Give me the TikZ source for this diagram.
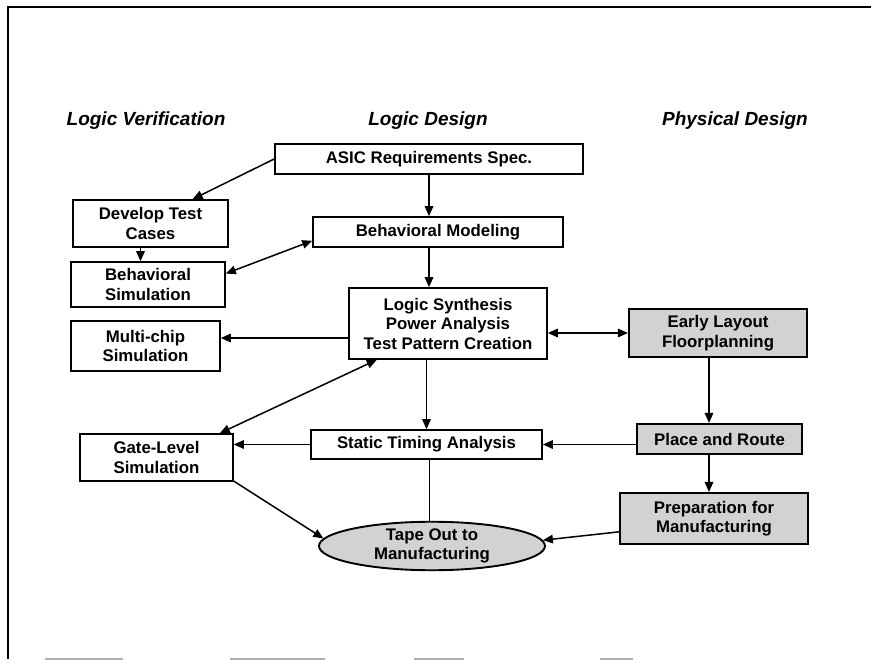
\documentclass[tikz,border=0pt]{standalone}
\usepackage{fontspec}
\setmainfont{Liberation Sans}
\usetikzlibrary{
    shapes.geometric,
    arrows.meta,
    positioning,
    calc
}
\definecolor{grisFisico}{RGB}{210, 210, 210}
\definecolor{grisMarco}{RGB}{175, 175, 175}
\tikzset{
    etapaLogica/.style={
        rectangle, draw=black, line width=1.6pt, fill=white,
        align=center, inner sep=0pt,
        font=\fontsize{16.8}{19.5}\selectfont\bfseries
    },
    etapaFisica/.style={
        etapaLogica, line width=2.1pt, fill=grisFisico
    },
    cintaFinal/.style={
        ellipse, draw=black, line width=1.9pt, fill=grisFisico,
        align=center, inner sep=0pt,
        font=\fontsize{16.8}{19}\selectfont\bfseries
    },
    tituloColumna/.style={
        font=\fontsize{19}{22}\selectfont\bfseries\itshape
    },
    flechaSimple/.style={
        -{Triangle[length=10pt,width=8.5pt]},
        line width=1.5pt
    },
    flechaDoble/.style={
        {Triangle[length=10pt,width=8.5pt]}-{Triangle[length=10pt,width=8.5pt]},
        line width=1.5pt
    },
    lineaSimple/.style={line width=1.5pt},
}

\begin{document}
\begin{tikzpicture}[x=1pt, y=-1pt]

    \useasboundingbox (0,0) rectangle (871,660);

    % ----------------------------------------------------------
    % MARCO (borde superior e izquierdo, restos abajo)
    % ----------------------------------------------------------
    \draw[line width=2.2pt] (871,7) -- (8,7) -- (8,659);
    \draw[line width=1.5pt, grisMarco]
        (45,659) -- (123,659)
        (230,659) -- (325,659)
        (414,659) -- (464,659)
        (600,659) -- (633,659);

    % ----------------------------------------------------------
    % TITULOS DE COLUMNA
    % ----------------------------------------------------------
    \node[tituloColumna] at (146, 121) (tituloVerif)  {Logic Verification};
    \node[tituloColumna] at (428, 121) (tituloDiseno) {Logic Design};
    \node[tituloColumna] at (735, 121) (tituloFisico) {Physical Design};

    % ----------------------------------------------------------
    % NODOS
    % ----------------------------------------------------------
    % Columna central
    \node[etapaLogica, minimum width=308, minimum height=30]
        at (429, 159)   (asicSpec)     {ASIC Requirements Spec.};
    \node[etapaLogica, minimum width=250, minimum height=30]
        at (438, 232)   (behavModel)   {Behavioral Modeling};
    \node[etapaLogica, minimum width=198, minimum height=71]
        at (448, 323.5) (logicSynth)   {Logic Synthesis\\Power Analysis\\Test Pattern Creation};
    \node[etapaLogica, minimum width=231, minimum height=29]
        at (426.5, 444.5) (staticTiming) {Static Timing Analysis};
    \node[cintaFinal, minimum width=226, minimum height=48]
        at (432, 546)   (tapeOut)      {Tape Out to\\Manufacturing};

    % Columna izquierda
    \node[etapaLogica, minimum width=155, minimum height=47]
        at (150.5, 223.5) (devTest)    {Develop Test\\Cases};
    \node[etapaLogica, minimum width=154, minimum height=45]
        at (148, 284.5) (behavSim)     {Behavioral\\Simulation};
    \node[etapaLogica, minimum width=149, minimum height=50]
        at (145.5, 346) (multiChip)    {Multi-chip\\Simulation};
    \node[etapaLogica, minimum width=153, minimum height=47]
        at (156.5, 457.5) (gateLevel)  {Gate-Level\\Simulation};

    % Columna derecha
    \node[etapaFisica, minimum width=178, minimum height=48]
        at (718, 333)   (earlyLayout)  {Early Layout\\Floorplanning};
    \node[etapaFisica, minimum width=165, minimum height=30]
        at (719.5, 439) (placeRoute)   {Place and Route};
    \node[etapaFisica, minimum width=188, minimum height=51]
        at (714, 518.5) (prepManuf)    {Preparation for\\Manufacturing};

    % ----------------------------------------------------------
    % FLECHAS
    % ----------------------------------------------------------
    \draw[flechaSimple] (asicSpec.west) -- (devTest.30);
    \draw[flechaSimple] (asicSpec.south) -- (asicSpec.south |- behavModel.north);
    \draw[flechaSimple] (asicSpec.south |- behavModel.south)
        -- (asicSpec.south |- logicSynth.north);
    \draw[flechaSimple] ([xshift=-10pt]devTest.south)
        -- ([xshift=-10pt]devTest.south |- behavSim.north);
    \draw[flechaDoble] (behavModel.184) -- (behavSim.8);
    \draw[flechaSimple] ([yshift=-14.5pt]logicSynth.west)
        -- ([yshift=-14.5pt]logicSynth.west -| multiChip.east);
    \draw[flechaDoble] (logicSynth.207) -- (gateLevel.21);
    \draw[flechaDoble] (logicSynth.east |- earlyLayout.west) -- (earlyLayout.west);
    \draw[flechaSimple] (staticTiming.north |- logicSynth.south) -- (staticTiming.north);

    \draw[flechaSimple] ([xshift=-9pt]earlyLayout.south)
        -- ([xshift=-9pt]earlyLayout.south |- placeRoute.north);
    \draw[flechaSimple] (placeRoute.west |- staticTiming.east) -- (staticTiming.east);
    \draw[flechaSimple] (staticTiming.west) -- (staticTiming.west -| gateLevel.east);
    \draw[lineaSimple] ([xshift=3pt]staticTiming.south)
        -- ([xshift=3pt]staticTiming.south |- tapeOut.north);
    \draw[flechaSimple] ([xshift=-9pt]earlyLayout.south |- placeRoute.south)
        -- ([xshift=-9pt]earlyLayout.south |- prepManuf.north);

    \draw[flechaSimple] (prepManuf.188) -- (tapeOut.3);
    \draw[flechaSimple] (gateLevel.-17) -- (tapeOut.176);

\end{tikzpicture}
\end{document}
